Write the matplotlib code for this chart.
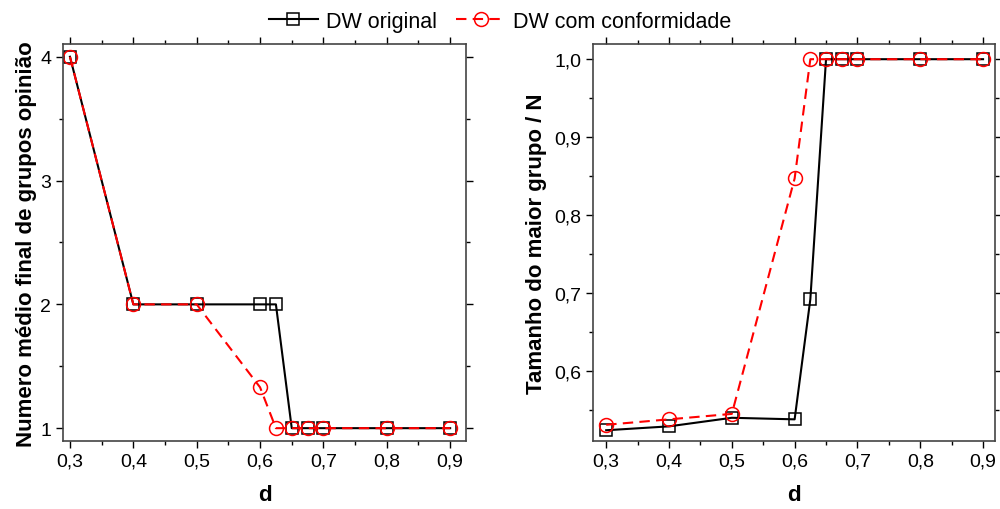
import numpy as np
import matplotlib.pyplot as plt
from matplotlib.ticker import MultipleLocator, FuncFormatter

plt.rcParams['font.family'] = ['Liberation Sans', 'DejaVu Sans']

# valores de d
d = [0.3, 0.4, 0.5, 0.6, 0.625, 0.65, 0.675, 0.7, 0.8, 0.9]

# numero medio final de grupos de opiniao
grupos_original = [4, 2, 2, 2, 2, 1, 1, 1, 1, 1]
grupos_conform = [4, 2, 2, 1.33, 1, 1, 1, 1, 1, 1]

# tamanho do maior grupo / N
maior_original = [0.524, 0.529, 0.540, 0.538, 0.692, 1.0, 1.0, 1.0, 1.0, 1.0]
maior_conform = [0.531, 0.538, 0.545, 0.847, 1.0, 1.0, 1.0, 1.0, 1.0, 1.0]

virgula = FuncFormatter(lambda v, p: ('%.1f' % v).replace('.', ','))

fig = plt.figure(figsize=(10, 5.1), dpi=100)
ax1 = fig.add_axes([0.063, 0.133, 0.403, 0.778])
ax2 = fig.add_axes([0.593, 0.133, 0.402, 0.778])

for ax, y0, y1 in [(ax1, grupos_original, grupos_conform), (ax2, maior_original, maior_conform)]:
    l1, = ax.plot(d, y0, color='black', lw=1.5, marker='s', ms=9, mfc='none',
                  mec='black', mew=1.1, label='DW original')
    l2, = ax.plot(d, y1, color='red', lw=1.5, ls=(0, (5, 3)), marker='o', ms=10,
                  mfc='none', mec='red', mew=1.1, label='DW com conformidade')
    ax.xaxis.set_major_locator(MultipleLocator(0.1))
    ax.xaxis.set_minor_locator(MultipleLocator(0.05))
    ax.xaxis.set_major_formatter(virgula)
    ax.tick_params(which='both', direction='out', top=True, right=True, labelsize=14)
    ax.tick_params(which='major', length=5, width=1)
    ax.tick_params(which='minor', length=3, width=1)
    for s in ax.spines.values():
        s.set_color('#444444')
        s.set_linewidth(1.2)
    ax.set_xlabel('d', fontsize=16, fontweight='bold', labelpad=10)

ax1.set_xlim(0.289, 0.925)
ax1.set_ylim(0.895, 4.1)
ax1.yaxis.set_major_locator(MultipleLocator(1))
ax1.yaxis.set_minor_locator(MultipleLocator(0.5))
ax1.set_ylabel('Numero médio final de grupos opinião', fontsize=16, fontweight='bold', labelpad=2)

ax2.set_xlim(0.279, 0.919)
ax2.set_ylim(0.510, 1.019)
ax2.yaxis.set_major_locator(MultipleLocator(0.1))
ax2.yaxis.set_minor_locator(MultipleLocator(0.05))
ax2.yaxis.set_major_formatter(virgula)
ax2.set_ylabel('Tamanho do maior grupo / N', fontsize=16, fontweight='bold', labelpad=5)

fig.legend(handles=[l1, l2], loc='upper center', bbox_to_anchor=(0.5, 1.015), ncol=2,
           frameon=False, fontsize=15.5, handlelength=2.3, columnspacing=0.9, handletextpad=0.35)

fig.savefig('out.png', dpi=100)
